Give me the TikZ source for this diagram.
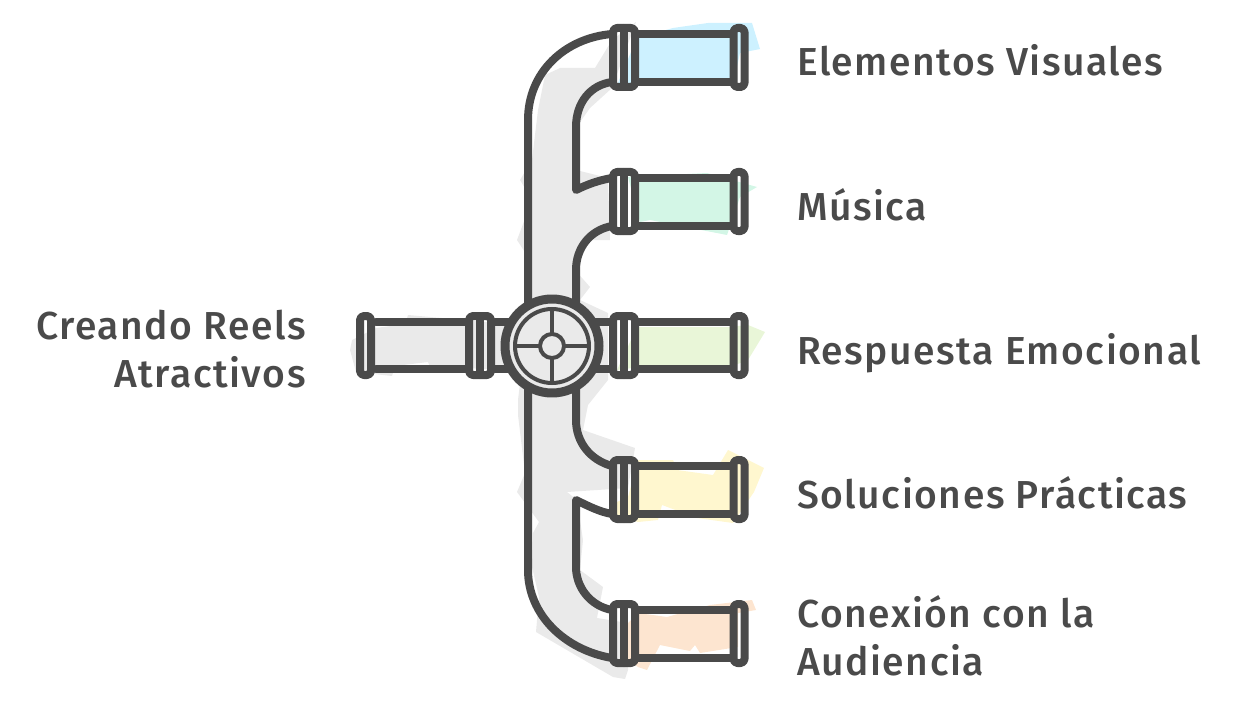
\documentclass[tikz,border=0pt]{standalone}
\usepackage{fontspec}
\setmainfont[LetterSpace=3.9]{Fira Sans Medium}
\definecolor{pipegray}{HTML}{4A4A4A}
\definecolor{washgray}{HTML}{EAEAEA}
\definecolor{washblue}{HTML}{CDF1FF}
\definecolor{washgreen}{HTML}{D3F6E6}
\definecolor{washlime}{HTML}{E9F6D8}
\definecolor{washyellow}{HTML}{FFF7CF}
\definecolor{washpeach}{HTML}{FDE5D0}
\tikzset{
    pipeline/.style={draw=pipegray, line width=8pt, line join=round, line cap=round},
    flange/.style={pipeline, rounded corners=4pt},
    spoke/.style={draw=pipegray, line width=4pt},
    label/.style={text=pipegray, inner sep=0pt, font=\fontsize{39}{48}\selectfont}
}
\begin{document}
\begin{tikzpicture}[x=1pt, y=-1pt]
    \useasboundingbox (0,0) rectangle (1248,706);
    \fill[washgray] (636,22) -- (612,40) -- (595,68) -- (560,68) -- (545,75) -- (538,110) -- (532,160) -- (520,180) -- (532,200) -- (517,240) -- (530,260) -- (530,300) -- (518,400) -- (518,415) -- (525,473) -- (517,492) -- (539,522) -- (533,533) -- (532,567) -- (539,597) -- (536,632) -- (613,677) -- (625,679) -- (628,670) -- (628,623) -- (597,618) -- (603,587) -- (580,570) -- (583,540) -- (577,500) -- (567,492) -- (628,488) -- (635,448) -- (583,430) -- (588,405) -- (608,380) -- (608,313) -- (580,300) -- (590,287) -- (575,270) -- (590,240) -- (610,240) -- (608,178) -- (576,170) -- (572,150) -- (578,125) -- (590,108) -- (612,88) -- cycle;
    \fill[washgray] (350,350) -- (356,372) -- (392,376) -- (395,366) -- (428,362) -- (430,367) -- (520,370) -- (520,325) -- (408,315) -- (405,324) -- (376,328) -- (352,340) -- cycle;
    \fill[washblue] (673,28) -- (708,23) -- (752,23) -- (760,49) -- (740,53) -- (733,85) -- (639,85) -- (617,85) -- (637,38) -- cycle;
    \fill[washgreen] (628,177) -- (707,173) -- (757,187) -- (740,197) -- (727,235) -- (650,220) -- (640,222) -- cycle;
    \fill[washlime] (617,370) -- (637,327) -- (728,327) -- (748,325) -- (765,332) -- (748,360) -- (730,367) -- (640,367) -- cycle;
    \fill[washyellow] (638,460) -- (673,460) -- (677,470) -- (713,475) -- (728,450) -- (764,468) -- (754,492) -- (733,523) -- (697,518) -- (662,505) -- (658,520) -- (638,522) -- (615,515) -- (617,502) -- (628,497) -- cycle;
    \fill[washpeach] (638,613) -- (667,617) -- (710,605) -- (752,600) -- (756,610) -- (738,613) -- (738,647) -- (700,653) -- (695,645) -- (690,651) -- (660,645) -- (647,670) -- (638,667) -- (628,660) -- (628,623) -- cycle;
    \draw[pipeline] (612,34) .. controls (565,38) and (528,72) .. (528,120) -- (528,306);
    \draw[pipeline] (612,82) .. controls (590,85) and (576,103) .. (576,127) -- (576,190) .. controls (588,184) and (600,180) .. (612,178);
    \draw[pipeline] (612,226) .. controls (590,230) and (576,248) .. (576,270) -- (576,304);
    \draw[pipeline] (576,388) -- (576,420) .. controls (576,442) and (590,460) .. (612,466);
    \draw[pipeline] (612,514) .. controls (600,512) and (588,506) .. (576,500) -- (576,567) .. controls (576,587) and (590,606) .. (612,610);
    \draw[pipeline] (528,388) -- (528,570) .. controls (528,615) and (565,650) .. (612,658);
    \draw[pipeline] (376,322) -- (468,322);
    \draw[pipeline] (376,369) -- (468,369);
    \draw[pipeline] (495,322) -- (515,322);
    \draw[pipeline] (495,369) -- (515,369);
    \draw[pipeline] (590,322) -- (612,322);
    \draw[pipeline] (590,369) -- (612,369);
    \draw[pipeline] (636,34) -- (732,34);
    \draw[pipeline] (636,82) -- (732,82);
    \draw[pipeline] (636,178) -- (732,178);
    \draw[pipeline] (636,226) -- (732,226);
    \draw[pipeline] (636,322) -- (732,322);
    \draw[pipeline] (636,369) -- (732,369);
    \draw[pipeline] (636,466) -- (732,466);
    \draw[pipeline] (636,514) -- (732,514);
    \draw[pipeline] (636,610) -- (732,610);
    \draw[pipeline] (636,658) -- (732,658);
    \draw[flange] (613,28) rectangle (635,87);
    \draw[flange] (613,172) rectangle (635,231);
    \draw[flange] (613,316) rectangle (635,375);
    \draw[flange] (613,460) rectangle (635,519);
    \draw[flange] (613,604) rectangle (635,663);
    \draw[flange] (469,316) rectangle (491,375);
    \draw[pipeline] (624,28) -- (624,87);
    \draw[pipeline] (624,172) -- (624,231);
    \draw[pipeline] (624,316) -- (624,375);
    \draw[pipeline] (624,460) -- (624,519);
    \draw[pipeline] (624,604) -- (624,663);
    \draw[pipeline] (480,316) -- (480,375);
    \draw[flange] (733.5,28) rectangle (744.5,87);
    \draw[flange] (733.5,172) rectangle (744.5,231);
    \draw[flange] (733.5,316) rectangle (744.5,375);
    \draw[flange] (733.5,460) rectangle (744.5,519);
    \draw[flange] (733.5,604) rectangle (744.5,663);
    \draw[flange] (360,316) rectangle (371,375);
    \draw[pipeline, line width=9pt, fill=washgray] (552,346) circle (47);
    \draw[spoke] (552,346) circle (37);
    \draw[spoke] (552,309) -- (552,334);
    \draw[spoke] (552,358) -- (552,383);
    \draw[spoke] (515,346) -- (540,346);
    \draw[spoke] (564,346) -- (589,346);
    \draw[spoke] (552,346) circle (12);
    \node[label, anchor=base west] (visuales) at (797,76) {Elementos Visuales};
    \node[label, anchor=base west] (musica) at (797,220) {Música};
    \node[label, anchor=base west] (respuesta) at (797,364) {Respuesta Emocional};
    \node[label, anchor=base west] (soluciones) at (797,508) {Soluciones Prácticas};
    \node[label, anchor=west, align=left] (conexion) at (797,636) {Conexión con la\\Audiencia};
    \node[label, anchor=east, align=right] (reels) at (306,349) {Creando Reels\\Atractivos};
\end{tikzpicture}
\end{document}
